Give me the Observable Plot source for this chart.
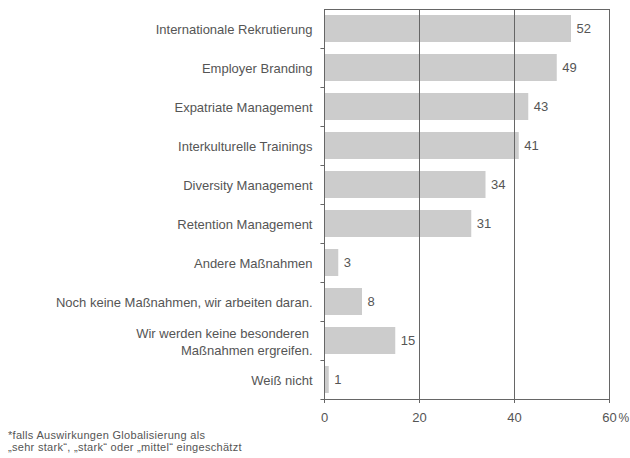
<!DOCTYPE html>
<html>
<head>
<meta charset="utf-8">
<script src="https://cdn.jsdelivr.net/npm/d3@7"></script>
<script src="https://cdn.jsdelivr.net/npm/@observablehq/plot@0.6"></script>
<style>
  body { margin: 0; background: #fff; font-family: "Liberation Sans", Arial, sans-serif; }
  #chart svg { display: block; }
  .note { font-size: 11px; line-height: 11.5px; color: #555; padding-left: 8px; margin-top: 2px; letter-spacing: 0.3px; }
</style>
</head>
<body>
<div id="chart"></div>
<div class="note">*falls Auswirkungen Globalisierung als<br>„sehr stark“, „stark“ oder „mittel“ eingeschätzt</div>
<script>
const categories = [
  "Internationale Rekrutierung",
  "Employer Branding",
  "Expatriate Management",
  "Interkulturelle Trainings",
  "Diversity Management",
  "Retention Management",
  "Andere Maßnahmen",
  "Noch keine Maßnahmen, wir arbeiten daran.",
  "Wir werden keine besonderen\u00a0\nMaßnahmen ergreifen.",
  "Weiß nicht"
];
const values = [52, 49, 43, 41, 34, 31, 3, 8, 15, 1];
const xTicks = [0, 20, 40, 60];
const gridValues = [20, 40];
const unitLabel = "%";

const data = categories.map((c, i) => ({category: c, value: values[i]}));

const chart = Plot.plot({
  width: 630,
  height: 428,
  marginLeft: 324,
  marginRight: 21,
  marginTop: 9,
  marginBottom: 29,
  style: {fontFamily: "'Liberation Sans', Arial, sans-serif", color: "#555", background: "#fff", overflow: "visible"},
  x: {domain: [0, 60], ticks: xTicks, label: null},
  y: {domain: categories, paddingInner: 0.32, paddingOuter: 0.16, label: null},
  marks: [
    Plot.barX(data, {x: "value", y: "category", fill: "#cccccc"}),
    Plot.ruleX(gridValues, {stroke: "#666", strokeWidth: 1}),
    Plot.frame({stroke: "#666", strokeWidth: 1}),
    Plot.ruleY(categories, {y: d => d, x1: -0.75, x2: 0, dy: 19.5, stroke: "#666"}),
    Plot.text(data, {x: "value", y: "category", text: d => String(d.value), dx: 5, textAnchor: "start", fill: "#555", fontSize: 13}),
    Plot.axisY({tickSize: 0, tickPadding: 12, fontSize: 13, lineHeight: 1.3, label: null, fill: "#555"}),
    Plot.axisX({ticks: xTicks, tickSize: 4, tickPadding: 9, fontSize: 13, label: null, stroke: "#666", fill: "#555"}),
    Plot.text([60], {x: d => d, frameAnchor: "bottom", lineAnchor: "middle", dy: 19, dx: 9, text: () => unitLabel, textAnchor: "start", fill: "#555", fontSize: 12})
  ]
});
document.getElementById("chart").appendChild(chart);
</script>
</body>
</html>
